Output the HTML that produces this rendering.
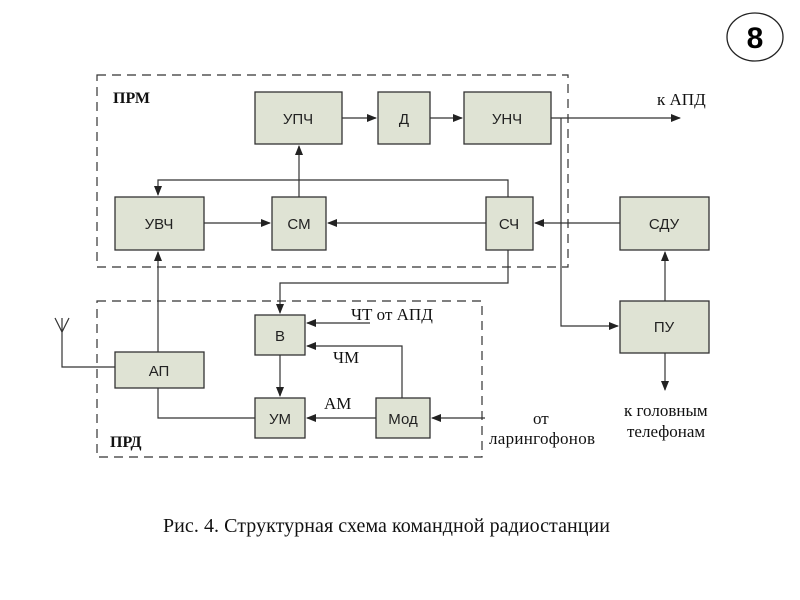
<!DOCTYPE html>
<html><head><meta charset="utf-8"><style>
body{margin:0;background:#fff}
svg{display:block}
.b{fill:#dfe3d4;stroke:#333;stroke-width:1.3}
.l{stroke:#333;stroke-width:1.2;fill:none}
.d{stroke:#333;stroke-width:1.2;fill:none;stroke-dasharray:9,6}
.t{font-family:"Liberation Sans",sans-serif;font-size:15px;fill:#222;text-anchor:middle}
.s{font-family:"Liberation Serif",serif;font-size:17px;fill:#111}
</style></head><body>
<svg width="800" height="600" viewBox="0 0 800 600">
<defs><marker id="a" markerWidth="10" markerHeight="8" refX="9" refY="4" orient="auto" markerUnits="userSpaceOnUse"><path d="M0,0 L10,4 L0,8z" fill="#222"/></marker></defs>
<ellipse cx="755" cy="37" rx="28" ry="24" fill="none" stroke="#222" stroke-width="1.3"/>
<text x="755" y="48" font-family="Liberation Sans,sans-serif" font-weight="bold" font-size="30" text-anchor="middle">8</text>
<rect class="d" x="97" y="75" width="471" height="192"/>
<rect class="d" x="97" y="301" width="385" height="156"/>
<text class="s" x="113" y="103" font-weight="bold" style="font-size:16px">ПРМ</text>
<text class="s" x="110" y="447" font-weight="bold" style="font-size:16px">ПРД</text>
<g class="l">
<path d="M342 118H376" marker-end="url(#a)"/>
<path d="M430 118H462" marker-end="url(#a)"/>
<path d="M551 118H680" marker-end="url(#a)"/>
<path d="M561 118V326H618" marker-end="url(#a)"/>
<path d="M508 197V180H158V195" marker-end="url(#a)"/>
<path d="M299 197V146" marker-end="url(#a)"/>
<path d="M204 223H270" marker-end="url(#a)"/>
<path d="M486 223H328" marker-end="url(#a)"/>
<path d="M620 223H535" marker-end="url(#a)"/>
<path d="M665 301V252" marker-end="url(#a)"/>
<path d="M665 353V390" marker-end="url(#a)"/>
<path d="M508 250V283H280V313" marker-end="url(#a)"/>
<path d="M158 352V252" marker-end="url(#a)"/>
<path d="M62 318V367H115"/>
<path d="M55 318L62 332L69 318"/>
<path d="M158 388V418H255"/>
<path d="M280 355V396" marker-end="url(#a)"/>
<path d="M370 323H307" marker-end="url(#a)"/>
<path d="M402 398V346H307" marker-end="url(#a)"/>
<path d="M376 418H307" marker-end="url(#a)"/>
<path d="M485 418H432" marker-end="url(#a)"/>
</g>
<rect class="b" x="255" y="92" width="87" height="52"/><text class="t" x="298" y="124">УПЧ</text>
<rect class="b" x="378" y="92" width="52" height="52"/><text class="t" x="404" y="124">Д</text>
<rect class="b" x="464" y="92" width="87" height="52"/><text class="t" x="507" y="124">УНЧ</text>
<rect class="b" x="115" y="197" width="89" height="53"/><text class="t" x="159" y="229">УВЧ</text>
<rect class="b" x="272" y="197" width="54" height="53"/><text class="t" x="299" y="229">СМ</text>
<rect class="b" x="486" y="197" width="47" height="53"/><text class="t" x="509" y="229">СЧ</text>
<rect class="b" x="620" y="197" width="89" height="53"/><text class="t" x="664" y="229">СДУ</text>
<rect class="b" x="620" y="301" width="89" height="52"/><text class="t" x="664" y="332">ПУ</text>
<rect class="b" x="255" y="315" width="50" height="40"/><text class="t" x="280" y="341">В</text>
<rect class="b" x="115" y="352" width="89" height="36"/><text class="t" x="159" y="376">АП</text>
<rect class="b" x="255" y="398" width="50" height="40"/><text class="t" x="280" y="424">УМ</text>
<rect class="b" x="376" y="398" width="54" height="40"/><text class="t" x="403" y="424">Мод</text>
<text class="s" x="351" y="320">ЧТ от АПД</text>
<text class="s" x="333" y="363">ЧМ</text>
<text class="s" x="324" y="409">АМ</text>
<text class="s" x="533" y="424">от</text>
<text class="s" x="489" y="444" textLength="106">ларингофонов</text>
<text class="s" x="657" y="105">к АПД</text>
<text class="s" x="624" y="416">к головным</text>
<text class="s" x="627" y="437">телефонам</text>
<text class="s" x="163" y="532" style="font-size:20px" textLength="447">Рис. 4. Структурная схема командной радиостанции</text>
</svg>
</body></html>
